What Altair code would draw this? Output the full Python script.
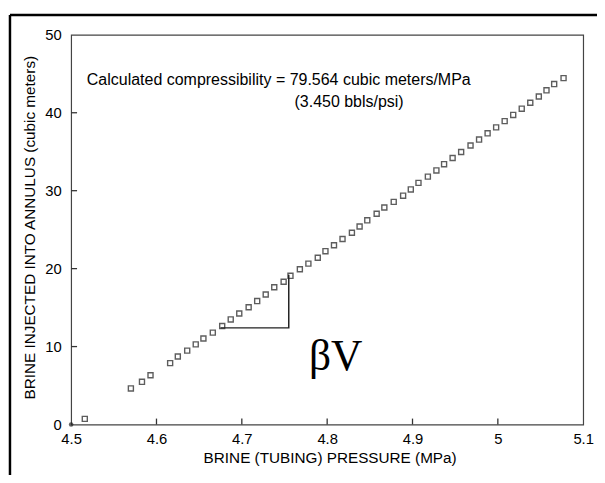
import altair as alt
import pandas as pd

# Data
pressure = [4.516, 4.570, 4.583, 4.593, 4.616, 4.625, 4.636, 4.646, 4.655, 4.666,
            4.677, 4.687, 4.697, 4.708, 4.718, 4.728, 4.738, 4.749, 4.757, 4.768,
            4.778, 4.789, 4.798, 4.808, 4.818, 4.829, 4.838, 4.847, 4.858, 4.867,
            4.878, 4.889, 4.898, 4.907, 4.918, 4.928, 4.937, 4.947, 4.957, 4.968,
            4.978, 4.988, 4.998, 5.008, 5.018, 5.028, 5.038, 5.048, 5.057, 5.066,
            5.077]
volume = [0.72, 4.63, 5.48, 6.32, 7.88, 8.72, 9.48, 10.28, 11.04, 11.79,
          12.64, 13.48, 14.24, 15.04, 15.84, 16.68, 17.61, 18.32, 19.08, 19.92,
          20.64, 21.40, 22.24, 23.00, 23.80, 24.60, 25.40, 26.20, 27.04, 27.84,
          28.56, 29.36, 30.16, 31.00, 31.80, 32.60, 33.40, 34.20, 34.96, 35.80,
          36.56, 37.36, 38.12, 38.92, 39.72, 40.52, 41.28, 42.08, 42.88, 43.68,
          44.44]
origin_x = [4.5]
origin_y = [0.0]

tri_x = [4.675, 4.755, 4.755]
tri_y = [12.4, 12.4, 19.2]

x_ticks = [4.5, 4.6, 4.7, 4.8, 4.9, 5.0, 5.1]
y_ticks = [0, 10, 20, 30, 40, 50]
x_inner_ticks = [4.6, 4.7, 4.8, 4.9, 5.0]
y_inner_ticks = [10, 20, 30, 40]

note_lines = ["Calculated compressibility = 79.564 cubic meters/MPa", "(3.450 bbls/psi)"]
note_x = [4.7433, 4.8257]
note_y = [44.18, 41.39]
beta_label = ["βV"]
beta_x = [4.81]
beta_y = [8.6]

W, H = 519, 395

xs = alt.Scale(domain=[4.5, 5.1], nice=False, zero=False)
ys = alt.Scale(domain=[0, 50], nice=False)

df = pd.DataFrame({"p": pressure, "v": volume})
d_origin = pd.DataFrame({"p": origin_x, "v": origin_y})
d_tri = pd.DataFrame({"p": tri_x, "v": tri_y, "o": list(range(len(tri_x)))})
d_note = pd.DataFrame({"t": note_lines, "p": note_x, "v": note_y})
d_beta = pd.DataFrame({"t": beta_label, "p": beta_x, "v": beta_y})
d_xt = pd.DataFrame({"p": x_inner_ticks})
d_yt = pd.DataFrame({"v": y_inner_ticks})

xaxis = alt.Axis(values=x_ticks, format="~g", ticks=False, domain=False, grid=False,
                 labelFlush=False, labelOverlap=False,
                 labelFont="Liberation Sans", labelFontSize=15, labelColor="#000",
                 labelPadding=7, title="BRINE (TUBING) PRESSURE (MPa)",
                 titleFont="Liberation Sans", titleFontSize=15.5, titleFontWeight="normal",
                 titleColor="#000", titleX=262, titleY=34, titleBaseline="middle")
yaxis = alt.Axis(values=y_ticks, ticks=False, domain=False, grid=False,
                 labelFlush=False, labelOverlap=False,
                 labelFont="Liberation Sans", labelFontSize=15, labelColor="#000",
                 labelPadding=10, title="BRINE INJECTED INTO ANNULUS (cubic meters)",
                 titleFont="Liberation Sans", titleFontSize=15.5, titleFontWeight="normal",
                 titleColor="#000", titleX=-42, titleY=195, titleBaseline="middle")

pts = alt.Chart(df).mark_point(shape="square", filled=False, color="#1a1a1a",
                               size=26, strokeWidth=1.4).encode(
    x=alt.X("p:Q", scale=xs, axis=xaxis),
    y=alt.Y("v:Q", scale=ys, axis=yaxis),
)
orig = alt.Chart(d_origin).mark_point(shape="circle", filled=True, color="#222",
                                      size=22).encode(
    x=alt.X("p:Q", scale=xs), y=alt.Y("v:Q", scale=ys))
tri = alt.Chart(d_tri).mark_line(color="#222", strokeWidth=1.5).encode(
    x=alt.X("p:Q", scale=xs), y=alt.Y("v:Q", scale=ys), order="o:Q")
note = alt.Chart(d_note).mark_text(font="Liberation Sans", fontSize=16.2, color="#000",
                                   align="center", baseline="middle").encode(
    x=alt.X("p:Q", scale=xs), y=alt.Y("v:Q", scale=ys), text="t:N")
beta = alt.Chart(d_beta).mark_text(font="Liberation Serif", fontSize=44, color="#000",
                                   align="center", baseline="middle").encode(
    x=alt.X("p:Q", scale=xs), y=alt.Y("v:Q", scale=ys), text="t:N")
xt = alt.Chart(d_xt).mark_rule(color="#333", strokeWidth=1.3).encode(
    x=alt.X("p:Q", scale=xs), y=alt.value(H), y2=alt.value(H - 6))
yt = alt.Chart(d_yt).mark_rule(color="#333", strokeWidth=1.3).encode(
    y=alt.Y("v:Q", scale=ys), x=alt.value(0), x2=alt.value(6))
frame_top = alt.Chart(d_origin).mark_rule(color="black", strokeWidth=2.5).encode(
    x=alt.value(-62), x2=alt.value(W + 40), y=alt.value(-20))
frame_left = alt.Chart(d_origin).mark_rule(color="black", strokeWidth=2.5).encode(
    x=alt.value(-62), y=alt.value(-20), y2=alt.value(H + 80))

chart = alt.layer(pts, orig, tri, note, beta, xt, yt, frame_top, frame_left).properties(
    width=W, height=H,
    autosize=alt.AutoSizeParams(type="none"),
    padding={"left": 64, "top": 24, "right": 14, "bottom": 48},
    background="white",
).configure_view(stroke="#444", strokeWidth=1.2)

chart.save("out.html", embed_options={"renderer": "svg", "actions": False})
